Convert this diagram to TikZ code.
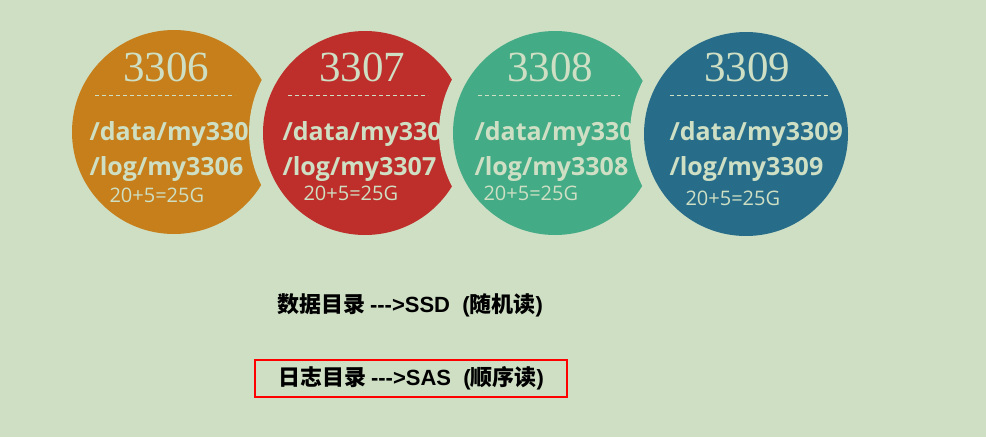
\documentclass[tikz,border=0pt]{standalone}
\usepackage{fontspec}
\newfontfamily\numfont{Liberation Serif}
\newfontfamily\pathfont{Open Sans}
\newfontfamily\latfont{Liberation Sans}
\newfontfamily\cjk{Noto Sans CJK SC}
\definecolor{PaleGreen}{RGB}{206, 223, 196}
\definecolor{PortOrange}{RGB}{198, 127, 26}
\definecolor{PortRed}{RGB}{190, 46, 42}
\definecolor{PortGreen}{RGB}{67, 171, 134}
\definecolor{PortBlue}{RGB}{39, 109, 138}
\tikzset{
  disk/.style={circle, inner sep=0pt, minimum size=204pt},
  notch/.style={circle, inner sep=0pt, minimum size=232pt, fill=PaleGreen},
  port/.style={anchor=base, text=PaleGreen, font=\numfont\fontsize{43}{43}\selectfont},
  dir/.style={anchor=base west, text=PaleGreen, font=\pathfont\bfseries\fontsize{25}{25}\selectfont},
  size/.style={anchor=base west, text=PaleGreen, font=\pathfont\fontsize{20}{20}\selectfont},
  note/.style={minimum width=312pt, minimum height=37pt, inner sep=0pt, font=\cjk\bfseries\fontsize{22}{22}\selectfont}
}
\newcommand{\lat}[1]{{\latfont\bfseries #1}}

\begin{document}
\begin{tikzpicture}[x=1pt, y=-1pt]
    \fill[PaleGreen] (0,0) rectangle (986,437);
    \useasboundingbox (0,0) rectangle (986,437);
    % four instances, each one bites into the one before
    \foreach \p/\cx/\cy/\col/\nx/\dl/\dr/\tx/\sx/\sy in {
        3306/174/132/PortOrange/166/95/235/86/106/202,
        3307/365/133/PortRed/362/288/428/279/300/200,
        3308/555/133/PortGreen/550/478/620/471/480/200,
        3309/746/134/PortBlue/747/670/828/666/682/205} {
      \ifnum\p>3306 \node[notch] (n\p) at (\cx,\cy) {}; \fi
      \node[disk, fill=\col] (c\p) at (\cx,\cy) {};
      \node[port] (p\p) at (\nx,81) {\p};
      \draw[PaleGreen, dash pattern=on 4pt off 3pt] (\dl,95) -- (\dr,95);
      \node[dir] (d\p) at (\tx,140) {/data/my\p};
      \node[dir] (l\p) at (\tx,175) {/log/my\p};
      \node[size] (s\p) at (\sx,\sy) {20+5=25G};
    }
    \node[note] (ssd) at (410,305) {数据目录 \lat{-{}-{}->SSD\ \ (}随机读\lat{)}};
    \node[note, draw=red, line width=2.8pt] (sas) at (411,378.5) {日志目录 \lat{-{}-{}->SAS\ \ (}顺序读\lat{)}};
  \end{tikzpicture}
\end{document}
